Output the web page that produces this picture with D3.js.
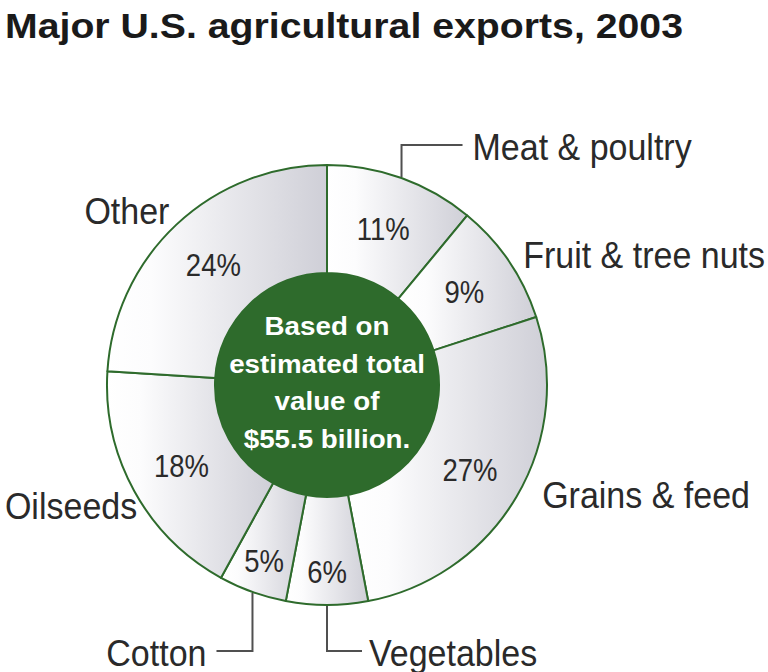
<!DOCTYPE html>
<html>
<head>
<meta charset="utf-8">
<script src="https://cdn.jsdelivr.net/npm/d3@7"></script>
<style>
  html, body { margin: 0; padding: 0; background: #fff; }
  svg { display: block; }
  text { font-family: "Liberation Sans", Arial, Helvetica, sans-serif; }
</style>
</head>
<body>
<svg id="chart" width="768" height="672"></svg>
<script>
// ---- data ----
const title = "Major U.S. agricultural exports, 2003";
const categories = ["Meat & poultry", "Fruit & tree nuts", "Grains & feed", "Vegetables", "Cotton", "Oilseeds", "Other"];
const shares = [11, 9, 27, 6, 5, 18, 24];
const centerNote = ["Based on", "estimated total", "value of", "$55.5 billion."];

// ---- layout ----
const svg = d3.select("#chart");
const cx = 327, cy = 385;
const outerR = 220, innerR = 112;
const green = "#2e6b2c";
const textColor = "#2a2a2a";

const pie = d3.pie().sort(null).value(d => d.value);
const arcs = pie(categories.map((c, i) => ({ name: c, value: shares[i] })));
const arc = d3.arc().innerRadius(innerR).outerRadius(outerR);

const defs = svg.append("defs");
const grad = defs.append("linearGradient").attr("id", "sliceGrad")
  .attr("x1", "0").attr("y1", "0").attr("x2", "1").attr("y2", "0");
grad.append("stop").attr("offset", "0").attr("stop-color", "#ffffff");
grad.append("stop").attr("offset", "0.2").attr("stop-color", "#fcfcfd");
grad.append("stop").attr("offset", "1").attr("stop-color", "#cfcfd7");

// title
svg.append("text")
  .attr("transform", "translate(5,38) scale(1.09,1)")
  .attr("font-size", 36).attr("font-weight", "bold").attr("fill", "#1a1a1a")
  .text(title);

const g = svg.append("g").attr("transform", `translate(${cx},${cy})`);

g.selectAll("path.slice").data(arcs).join("path")
  .attr("class", "slice")
  .attr("d", arc)
  .attr("fill", "url(#sliceGrad)")
  .attr("stroke", green).attr("stroke-width", 2)
  .attr("stroke-linejoin", "round");

// centre disc
g.append("circle").attr("r", innerR).attr("fill", green);

const lineH = 37.5;
g.selectAll("text.note").data(centerNote).join("text")
  .attr("class", "note")
  .attr("transform", (d, i) => `translate(0,${-50 + i * lineH}) scale(1.11,1.03)`)
  .attr("text-anchor", "middle")
  .attr("font-size", 25).attr("font-weight", "bold").attr("fill", "#ffffff")
  .text(d => d);

// helpers
const mid = d => (d.startAngle + d.endAngle) / 2;
const polar = (a, r) => [r * Math.sin(a), -r * Math.cos(a)];

// percent labels
g.selectAll("text.pct").data(arcs).join("text")
  .attr("class", "pct")
  .attr("transform", d => {
    const r = d.data.value < 8 ? 186 : 166;
    const [x, y] = polar(mid(d), r);
    return `translate(${x},${y}) scale(1,1.17)`;
  })
  .attr("text-anchor", "middle").attr("dy", "0.36em")
  .attr("font-size", 27.5).attr("fill", textColor)
  .text(d => d.data.value + "%");

// category labels
const calloutIdx = { "Meat & poultry": { yEnd: -240, dx: 61, gap: 10 },
                     "Vegetables": { yEnd: 266, dx: 35, gap: 7 },
                     "Cotton": { yEnd: 266, dx: -36, gap: 10 } };
const nudge = { "Fruit & tree nuts": [1, 3], "Grains & feed": [12, -10], "Oilseeds": [17, 8], "Other": [4, -2] };

arcs.forEach(d => {
  const name = d.data.name;
  const a = mid(d);
  const c = calloutIdx[name];
  if (c) {
    const [x0, y0] = polar(a, outerR);
    const x1 = x0 + c.dx;
    g.append("path")
      .attr("d", `M${x0},${y0 + (c.yEnd < 0 ? -1 : 1)}V${c.yEnd}H${x1}`)
      .attr("fill", "none").attr("stroke", "#505050").attr("stroke-width", 2);
    g.append("text")
      .attr("transform", `translate(${x1 + (c.dx > 0 ? c.gap : -c.gap)},${c.yEnd + 2}) scale(1,1.07)`)
      .attr("dy", "0.35em")
      .attr("text-anchor", c.dx > 0 ? "start" : "end")
      .attr("font-size", 34).attr("fill", textColor)
      .text(name);
  } else {
    let [x, y] = polar(a, 236);
    const n = nudge[name] || [0, 0];
    x += n[0]; y += n[1];
    g.append("text")
      .attr("transform", `translate(${x},${y}) scale(1,1.07)`)
      .attr("dy", "0.35em")
      .attr("text-anchor", Math.sin(a) > 0 ? "start" : "end")
      .attr("font-size", 34).attr("fill", textColor)
      .text(name);
  }
});
</script>
</body>
</html>
